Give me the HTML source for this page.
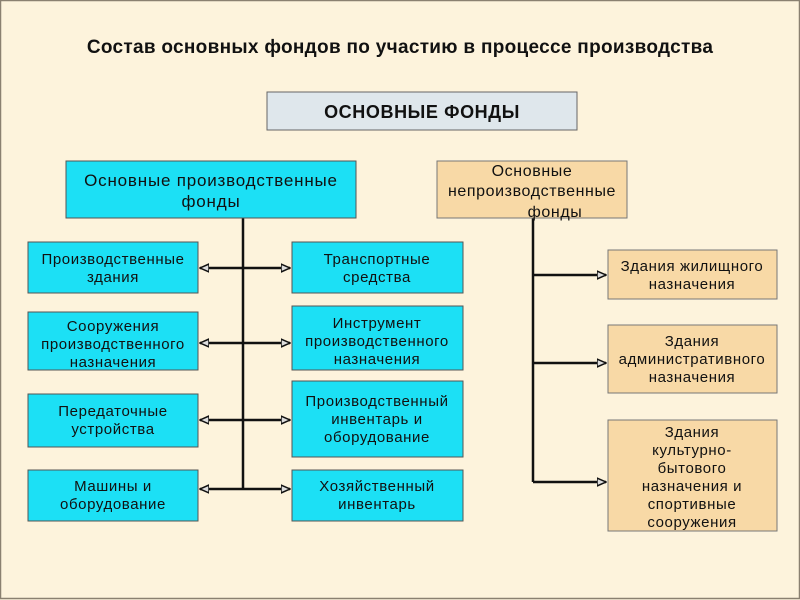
<!DOCTYPE html>
<html><head><meta charset="utf-8"><style>
body{margin:0;width:800px;height:600px;overflow:hidden;background:#fdf3dc}
svg{display:block}
text{font-family:"Liberation Sans",sans-serif;font-size:15px;letter-spacing:0.6px;fill:#111;text-anchor:middle}
</style></head><body>
<svg width="800" height="600" viewBox="0 0 800 600">
<defs>
<marker id="a" markerWidth="10" markerHeight="10" refX="9" refY="5" orient="auto" markerUnits="userSpaceOnUse">
<path d="M0,1 L9,5 L0,9 Z" fill="#ddd" stroke="#111" stroke-width="1.5"/></marker>
</defs>
<rect x="0.5" y="0.5" width="799" height="598" fill="#fdf3dc" stroke="#8a8070" stroke-width="1.5"/>
<text x="400" y="53" style="font-size:19px;font-weight:bold;letter-spacing:0.3px">Состав основных фондов по участию в процессе производства</text>
<rect x="267" y="92" width="310" height="38" fill="#dfe7ec" stroke="#666"/>
<text x="422" y="118" style="font-size:18px;font-weight:bold;letter-spacing:0.6px">ОСНОВНЫЕ ФОНДЫ</text>
<g stroke="#111" stroke-width="2.5" fill="none">
<line x1="243" y1="218" x2="243" y2="489"/>
<line x1="533" y1="218" x2="533" y2="482"/>
<g marker-end="url(#a)">
<line x1="243" y1="268" x2="200" y2="268"/><line x1="243" y1="268" x2="290" y2="268"/>
<line x1="243" y1="343" x2="200" y2="343"/><line x1="243" y1="343" x2="290" y2="343"/>
<line x1="243" y1="420" x2="200" y2="420"/><line x1="243" y1="420" x2="290" y2="420"/>
<line x1="243" y1="489" x2="200" y2="489"/><line x1="243" y1="489" x2="290" y2="489"/>
<line x1="533" y1="275" x2="606" y2="275"/>
<line x1="533" y1="363" x2="606" y2="363"/>
<line x1="533" y1="482" x2="606" y2="482"/>
</g></g>
<g fill="#1ce0f5" stroke="#555">
<rect x="66" y="161" width="290" height="57"/>
<rect x="28" y="242" width="170" height="51"/>
<rect x="28" y="312" width="170" height="58"/>
<rect x="28" y="394" width="170" height="53"/>
<rect x="28" y="470" width="170" height="51"/>
<rect x="292" y="242" width="171" height="51"/>
<rect x="292" y="306" width="171" height="64"/>
<rect x="292" y="381" width="171" height="76"/>
<rect x="292" y="470" width="171" height="51"/>
</g>
<g fill="#f8d9a6" stroke="#777">
<rect x="437" y="161" width="190" height="57"/>
<rect x="608" y="250" width="169" height="49"/>
<rect x="608" y="325" width="169" height="68"/>
<rect x="608" y="420" width="169" height="111"/>
</g>
<text x="211" y="186" style="font-size:17px;letter-spacing:0.8px">Основные производственные</text>
<text x="211" y="207" style="font-size:17px;letter-spacing:0.8px">фонды</text>
<text x="532" y="176" style="font-size:16px;letter-spacing:0.6px">Основные</text>
<text x="532" y="196" style="font-size:16px;letter-spacing:0.6px">непроизводственные</text>
<text x="555" y="217" style="font-size:16px;letter-spacing:0.6px">фонды</text>
<text x="113" y="264">Производственные</text><text x="113" y="282">здания</text>
<text x="113" y="331">Сооружения</text><text x="113" y="349">производственного</text><text x="113" y="367">назначения</text>
<text x="113" y="416">Передаточные</text><text x="113" y="434">устройства</text>
<text x="113" y="491">Машины и</text><text x="113" y="509">оборудование</text>
<text x="377" y="264">Транспортные</text><text x="377" y="282">средства</text>
<text x="377" y="328">Инструмент</text><text x="377" y="346">производственного</text><text x="377" y="364">назначения</text>
<text x="377" y="406">Производственный</text><text x="377" y="424">инвентарь и</text><text x="377" y="442">оборудование</text>
<text x="377" y="491">Хозяйственный</text><text x="377" y="509">инвентарь</text>
<text x="692" y="271">Здания жилищного</text><text x="692" y="289">назначения</text>
<text x="692" y="346">Здания</text><text x="692" y="364">административного</text><text x="692" y="382">назначения</text>
<text x="692" y="437">Здания</text><text x="692" y="455">культурно-</text><text x="692" y="473">бытового</text><text x="692" y="491">назначения и</text><text x="692" y="509">спортивные</text><text x="692" y="527">сооружения</text>
</svg>
</body></html>
